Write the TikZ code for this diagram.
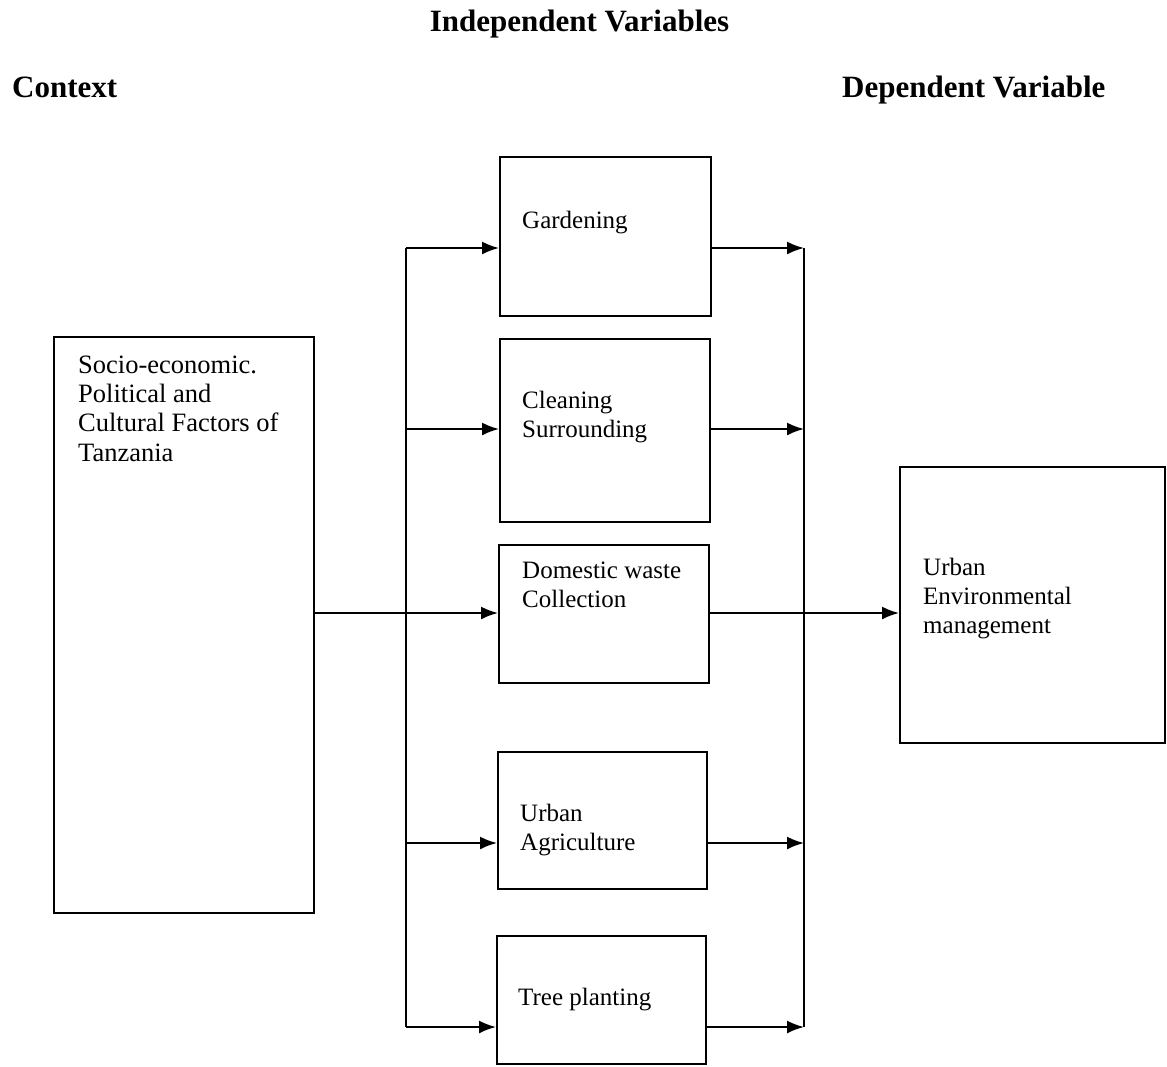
\documentclass[tikz,border=0pt]{standalone}
\usepackage{fontspec}
\setmainfont{Liberation Serif}
\usetikzlibrary{arrows.meta}
\begin{document}
\begin{tikzpicture}[x=1pt,y=-1pt,
  box/.style={draw,line width=2.2pt,inner sep=0,anchor=north west},
  txt/.style={anchor=north west,inner sep=0,align=left,font=\fontsize{25}{29}\selectfont},
  head/.style={inner sep=0,font=\bfseries\fontsize{31}{36}\selectfont},
  conn/.style={line width=1.9pt},
  arr/.style={line width=1.9pt,-{Latex[length=17pt,width=13pt]}}]
\useasboundingbox (0,0) rectangle (1167,1066);
% headings
\node[head,anchor=base] (hIV) at (579.5,31) {Independent Variables};
\node[head,anchor=base west] (hCtx) at (12,97) {Context};
\node[head,anchor=base west] (hDV) at (842,97) {Dependent Variable};
% boxes
\node[box,minimum width=260pt,minimum height=576pt] (ctx) at (53,336) {};
\node[box,minimum width=211pt,minimum height=159pt] (g) at (499,156) {};
\node[box,minimum width=210pt,minimum height=183pt] (c) at (499,338) {};
\node[box,minimum width=210pt,minimum height=138pt] (d) at (498,544) {};
\node[box,minimum width=209pt,minimum height=137pt] (a) at (497,751) {};
\node[box,minimum width=209pt,minimum height=128pt] (t) at (496,935) {};
\node[box,minimum width=265pt,minimum height=276pt] (u) at (899,466) {};
% texts
\node[txt,font=\fontsize{26.5}{29.3}\selectfont] (ctxT) at (78,373-20.5) {\strut Socio-economic.\\Political and\\Cultural Factors of\\Tanzania};
\node[txt] (gT) at (522,228-20.3) {\strut Gardening};
\node[txt] (cT) at (522,408-20.3) {\strut Cleaning\\Surrounding};
\node[txt] (dT) at (522,578-20.3) {\strut Domestic waste\\Collection};
\node[txt] (aT) at (520,821-20.3) {\strut Urban\\Agriculture};
\node[txt] (tT) at (518,1005-20.3) {\strut Tree planting};
\node[txt] (uT) at (923,575-20.3) {\strut Urban\\Environmental\\management};
% bus coordinates
\coordinate (L1) at (406,248);
\coordinate (L2) at (406,429);
\coordinate (L3) at (406,613);
\coordinate (L4) at (406,843);
\coordinate (L5) at (406,1027);
\coordinate (R1) at (804,248);
\coordinate (R2) at (804,429);
\coordinate (R4) at (804,843);
\coordinate (R5) at (804,1027);
% vertical buses
\draw[conn] (L1) -- (L5);
\draw[conn] (R1) -- (R5);
% left arrows
\draw[arr] (L1) -- (L1 -| g.west);
\draw[arr] (L2) -- (L2 -| c.west);
\draw[arr] (L3 -| ctx.east) -- (L3 -| d.west);
\draw[arr] (L4) -- (L4 -| a.west);
\draw[arr] (L5) -- (L5 -| t.west);
% right arrows
\draw[arr] (L1 -| g.east) -- (R1);
\draw[arr] (L2 -| c.east) -- (R2);
\draw[arr] (L3 -| d.east) -- (L3 -| u.west);
\draw[arr] (L4 -| a.east) -- (R4);
\draw[arr] (L5 -| t.east) -- (R5);
\end{tikzpicture}
\end{document}
